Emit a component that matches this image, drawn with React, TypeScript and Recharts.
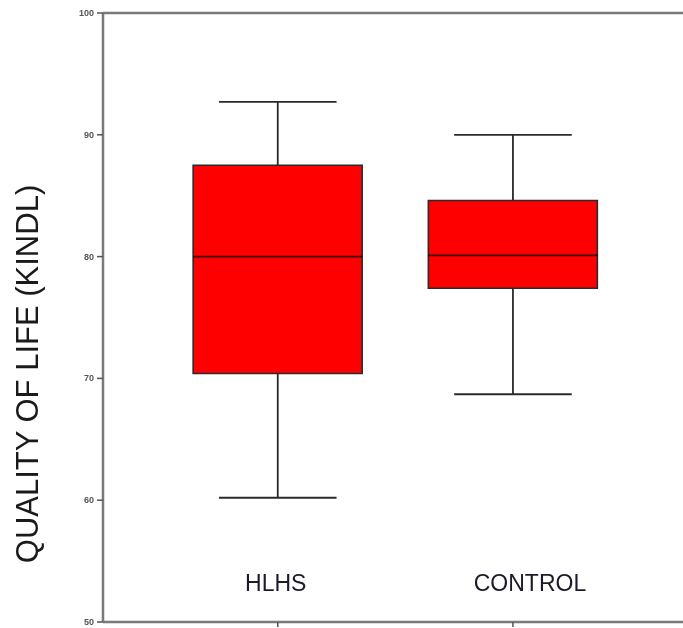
import {
  Bar,
  ComposedChart,
  ReferenceLine,
  XAxis,
  YAxis,
} from 'recharts'

const GROUPS = ['HLHS', 'CONTROL']
const POSITIONS = [1, 2]
const WHISKER_LOW = [60.2, 68.7]
const Q1 = [70.4, 77.4]
const MEDIAN = [80.0, 80.1]
const Q3 = [87.5, 84.6]
const WHISKER_HIGH = [92.7, 90.0]
const Y_TICKS = [50, 60, 70, 80, 90, 100]

const FONT = '"Liberation Sans", Arial, sans-serif'
const AXIS_GREY = '#7a7a7a'
const INK = '#2a2a2a'
const BOX_HALF = 0.36
const CAP_HALF = 0.25

const chartData = GROUPS.map((name, i) => ({
  name,
  pos: POSITIONS[i],
  box: [Q1[i], Q3[i]],
}))

// label nudges, the source places the names a bit off the tick
const LABEL_DX: Record<number, number> = { 1: -2, 2: 17 }

function GroupTick(props: any) {
  const { x, y, payload } = props
  const idx = POSITIONS.indexOf(payload.value)
  return (
    <text
      x={x + (LABEL_DX[payload.value] ?? 0)}
      y={y - 38}
      textAnchor="middle"
      fontFamily={FONT}
      fontSize={23}
      fill="#1a1a2a"
    >
      {GROUPS[idx]}
    </text>
  )
}

function ValueTick(props: any) {
  const { x, y, payload } = props
  return (
    <text
      x={x - 1}
      y={y + 3}
      textAnchor="end"
      fontFamily={FONT}
      fontSize={9}
      fontWeight="bold"
      fill="#555"
    >
      {payload.value}
    </text>
  )
}

export default function App() {
  return (
    <div
      style={{
        position: 'fixed',
        left: 0,
        top: 0,
        width: 683,
        height: 628,
        overflow: 'hidden',
      }}
    >
      <ComposedChart
        width={683}
        height={628}
        data={chartData}
        margin={{ top: 13, right: 0, bottom: 0, left: 0 }}
      >
        <XAxis
          type="number"
          dataKey="pos"
          domain={[0.257, 2.723]}
          ticks={POSITIONS}
          height={6}
          tickSize={5}
          axisLine={{ stroke: AXIS_GREY, strokeWidth: 2.5 }}
          tickLine={{ stroke: '#555', strokeWidth: 1.5 }}
          tick={<GroupTick />}
          allowDataOverflow
        />
        <YAxis
          type="number"
          domain={[50, 100]}
          ticks={Y_TICKS}
          interval={0}
          width={103}
          tickSize={6}
          axisLine={{ stroke: AXIS_GREY, strokeWidth: 2.5 }}
          tickLine={{ stroke: '#555', strokeWidth: 1.5 }}
          tick={<ValueTick />}
          label={{
            content: () => (
              <text
                transform="translate(38, 374) rotate(-90)"
                textAnchor="middle"
                fontFamily={FONT}
                fontSize={31}
                fill="#1a1a1a"
              >
                QUALITY OF LIFE (KINDL)
              </text>
            ),
          }}
        />
        <ReferenceLine y={100} stroke={AXIS_GREY} strokeWidth={2.5} />
        <Bar
          dataKey="box"
          barSize={169}
          fill="#ff0000"
          stroke={INK}
          strokeWidth={1.6}
          isAnimationActive={false}
        />
        {POSITIONS.map((p, i) => (
          <ReferenceLine
            key={`upper-${p}`}
            segment={[
              { x: p, y: Q3[i] },
              { x: p, y: WHISKER_HIGH[i] },
            ]}
            stroke={INK}
            strokeWidth={1.8}
          />
        ))}
        {POSITIONS.map((p, i) => (
          <ReferenceLine
            key={`lower-${p}`}
            segment={[
              { x: p, y: WHISKER_LOW[i] },
              { x: p, y: Q1[i] },
            ]}
            stroke={INK}
            strokeWidth={1.8}
          />
        ))}
        {POSITIONS.map((p, i) => (
          <ReferenceLine
            key={`cap-hi-${p}`}
            segment={[
              { x: p - CAP_HALF, y: WHISKER_HIGH[i] },
              { x: p + CAP_HALF, y: WHISKER_HIGH[i] },
            ]}
            stroke={INK}
            strokeWidth={1.8}
          />
        ))}
        {POSITIONS.map((p, i) => (
          <ReferenceLine
            key={`cap-lo-${p}`}
            segment={[
              { x: p - CAP_HALF, y: WHISKER_LOW[i] },
              { x: p + CAP_HALF, y: WHISKER_LOW[i] },
            ]}
            stroke={INK}
            strokeWidth={1.8}
          />
        ))}
        {POSITIONS.map((p, i) => (
          <ReferenceLine
            key={`median-${p}`}
            segment={[
              { x: p - BOX_HALF, y: MEDIAN[i] },
              { x: p + BOX_HALF, y: MEDIAN[i] },
            ]}
            stroke="#3a0000"
            strokeWidth={1.8}
          />
        ))}
      </ComposedChart>
    </div>
  )
}
